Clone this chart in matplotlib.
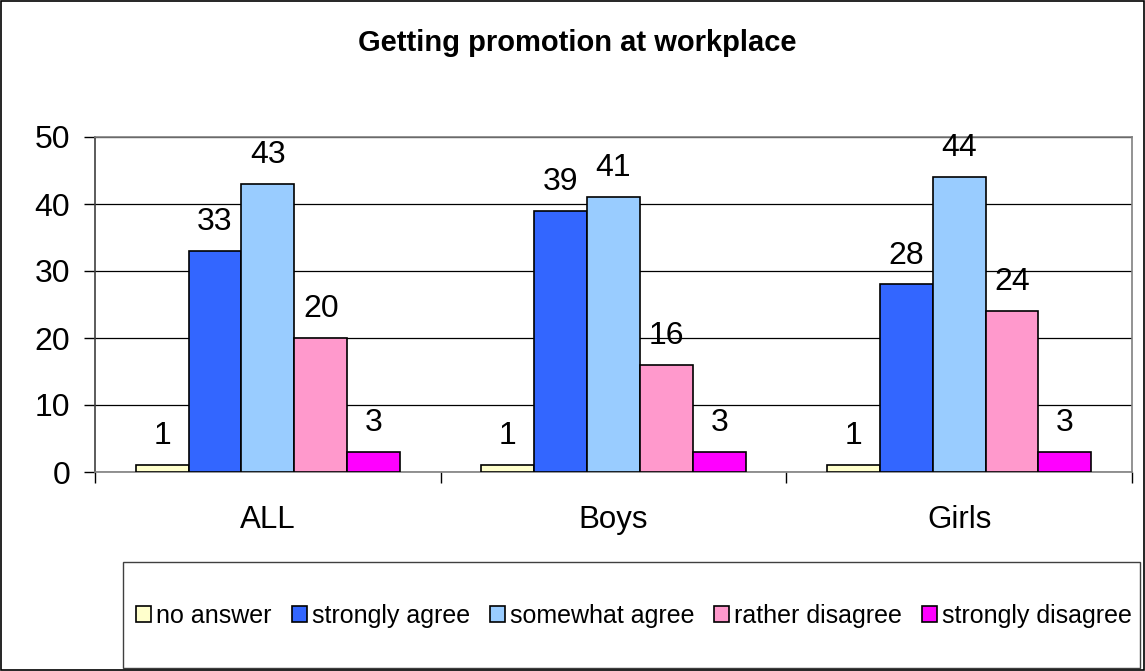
import numpy as np
import matplotlib.pyplot as plt
from matplotlib.patches import Rectangle

plt.rcParams['font.family'] = ['Liberation Sans', 'DejaVu Sans']

categories = ['ALL', 'Boys', 'Girls']
series_names = ['no answer', 'strongly agree', 'somewhat agree',
                'rather disagree', 'strongly disagree']
values = {
    'no answer': [1, 1, 1],
    'strongly agree': [33, 39, 28],
    'somewhat agree': [43, 41, 44],
    'rather disagree': [20, 16, 24],
    'strongly disagree': [3, 3, 3],
}
colors = ['#FFFFCC', '#3366FF', '#99CCFF', '#FF99CC', '#FF00FF']
y_ticks = [0, 10, 20, 30, 40, 50]
title = 'Getting promotion at workplace'

fig = plt.figure(figsize=(11.45, 6.71), dpi=100)
ax = fig.add_axes([95 / 1145, 1 - 472 / 671, (1132 - 95) / 1145, (472 - 137) / 671])

x = np.arange(len(categories))
width = 0.153
handles = []
for i, name in enumerate(series_names):
    off = (i - 2) * width
    bars = ax.bar(x + off, values[name], width, color=colors[i],
                  edgecolor='black', linewidth=1.2, label=name, zorder=3)
    handles.append(bars)
    for xi, v in zip(x + off, values[name]):
        ax.annotate(str(v), (xi, v), xytext=(0, 10), textcoords='offset points',
                    ha='center', va='bottom', fontsize=23)

ax.set_xlim(-0.5, 2.5)
ax.set_ylim(0, 50)
ax.set_yticks(y_ticks)
ax.tick_params(axis='y', labelsize=23, length=8, width=1, direction='out', pad=10)
ax.set_xticks(x)
ax.set_xticklabels(categories, fontsize=22.5)
ax.tick_params(axis='x', length=0, pad=24)
ax.set_xticks([-0.5, 0.5, 1.5, 2.5], minor=True)
ax.tick_params(axis='x', which='minor', length=8, width=1, direction='out')
ax.yaxis.grid(True, color='black', linewidth=0.9, zorder=0)
ax.set_axisbelow(True)

for s in ['top', 'right']:
    ax.spines[s].set_color('#808080')
    ax.spines[s].set_linewidth(1.2)
ax.spines['left'].set_color('#404040')
ax.spines['bottom'].set_color('#808080')
ax.spines['left'].set_linewidth(1.2)
ax.spines['bottom'].set_linewidth(1.2)

fig.text(577 / 1145, 1 - 51 / 671, title, ha='center', va='baseline',
         fontsize=21, fontweight='bold')

# legend box
lx0, lx1, ly0, ly1 = 123 / 1145, 1140 / 1145, 1 - 668 / 671, 1 - 562 / 671
fig.patches.append(Rectangle((lx0, ly0), lx1 - lx0, ly1 - ly0, transform=fig.transFigure,
                             fill=False, edgecolor='#404040', linewidth=1))
fig.legend(handles=handles, labels=series_names, loc='center',
           bbox_to_anchor=(634 / 1145, 1 - 616 / 671), ncol=5,
           frameon=False, fontsize=18, handlelength=0.6, handleheight=0.6,
           handletextpad=0.2, columnspacing=0.8, borderaxespad=0, borderpad=0)

# outer border
fig.patches.append(Rectangle((0.001, 0.001), 0.998, 0.997, transform=fig.transFigure,
                             fill=False, edgecolor='black', linewidth=1.2))

fig.savefig('out.png', dpi=100)
